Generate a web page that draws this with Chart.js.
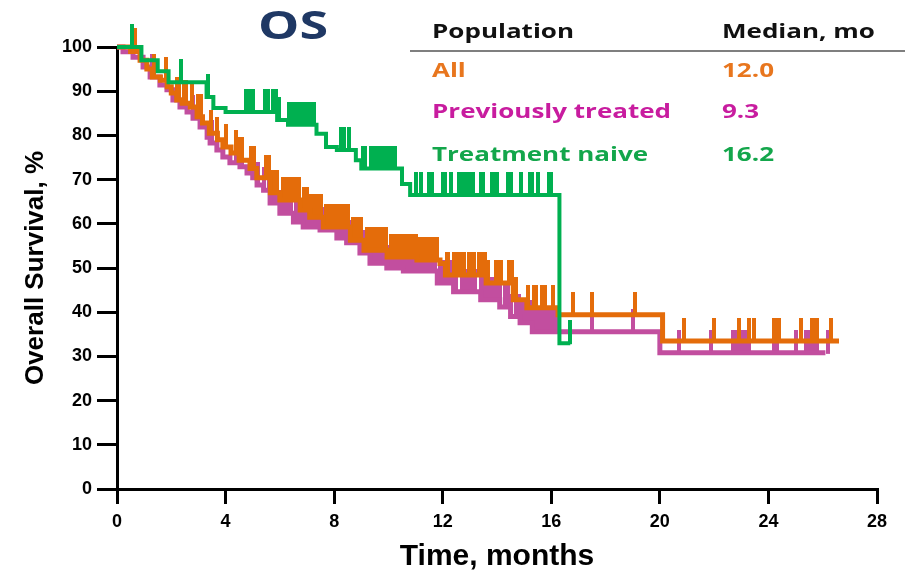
<!DOCTYPE html>
<html>
<head>
<meta charset="utf-8">
<script src="https://cdn.jsdelivr.net/npm/chart.js@4.4.1/dist/chart.umd.min.js"></script>
<style>
  body { margin: 0; background: #fff; }
  #wrap { position: relative; width: 913px; height: 573px; }
  #wrap canvas { position: absolute; left: 0; top: 0; }
  .txt { position: absolute; white-space: nowrap; font-family: 'Open Sans', sans-serif; font-weight: 700; line-height: 1; transform-origin: left top; }
  #title { left: 258px; top: 4px; font-size: 40px; color: #1F3864; transform: scaleX(1.3); }
  .leg { font-size: 20px; transform: scaleX(1.3); }
  #rule { position: absolute; left: 410px; top: 50px; width: 495px; height: 2px; background: #7f7f7f; }
</style>
</head>
<body>
<div id="wrap">
  <canvas id="osChart" width="913" height="573"></canvas>
  <div id="title" class="txt">OS</div>
  <div id="legend"></div>
  <div id="rule"></div>
</div>
<script>
/* ---------- Veri ---------- */
const xTicks = [0, 4, 8, 12, 16, 20, 24, 28];
const yTicks = [0, 10, 20, 30, 40, 50, 60, 70, 80, 90, 100];

const seriesNames = ['All', 'Previously treated', 'Treatment naive'];
const medians = ['12.0', '9.3', '16.2'];

// All (turuncu)
const allTimes = [0, 0.5, 0.85, 1.1, 1.3, 1.6, 1.85, 2.0, 2.2, 2.4, 2.7, 2.95, 3.15, 3.4, 3.7, 3.9, 4.2, 4.5, 4.9, 5.15,
                  5.65, 6.0, 6.75, 7.1, 7.6, 8.6, 9.1, 9.95, 11.05, 11.9, 12.1, 13.6, 14.6, 15.1, 16.25, 20.1, 26.6];
const allSurv  = [100, 99, 97, 95, 93.2, 92.5, 91, 89.6, 88, 87.3, 86.4, 84.2, 82.8, 80.5, 79, 77.4, 76, 74.4, 72.5, 70.4,
                  67, 65.4, 63.1, 61.5, 59.3, 56.3, 54, 52.5, 51.8, 51, 48.4, 46.6, 42.8, 41, 39.4, 33.5, 33.5];
const allCensor = [0.65, 1.35, 1.8, 2.2, 2.3, 2.45, 2.55, 2.75, 3.0, 3.1, 3.45, 3.7, 4.0, 4.4, 4.5, 4.6, 4.95, 5.05,
                   5.5, 5.6, 5.7, 5.8, 5.9, 6.1, 6.2, 6.3, 6.4, 6.5, 6.6, 6.7, 6.9, 7.0, 7.1, 7.2, 7.3, 7.4, 7.5,
                   7.7, 7.8, 7.9, 8.0, 8.1, 8.2, 8.3, 8.4, 8.5, 8.7, 8.8, 8.9, 9.0, 9.2, 9.3, 9.4, 9.5, 9.6, 9.7,
                   9.8, 9.9, 10.1, 10.2, 10.3, 10.4, 10.5, 10.6, 10.7, 10.8, 10.9, 11.0, 11.1, 11.2, 11.3, 11.4,
                   11.5, 11.6, 11.7, 11.8, 12.15, 12.2, 12.4, 12.5, 12.6, 12.7, 12.8, 12.95, 13.05, 13.15, 13.35,
                   13.45, 13.55, 13.65, 13.95, 14.05, 14.15, 14.45, 14.55, 14.7, 15.15, 15.35, 15.45, 15.65, 15.75,
                   16.05, 16.8, 17.5, 19.1, 20.9, 22.0, 22.9, 23.3, 23.45, 24.2, 24.3, 24.4, 25.2, 25.6, 25.7, 25.8, 26.3];

// Previously treated (mor)
const ptTimes = [0, 0.22, 0.59, 0.96, 1.22, 1.58, 1.84, 2.06, 2.32, 2.58, 2.8, 3.06, 3.32, 3.43, 3.68, 3.9, 4.16, 4.53, 4.79, 5.0,
                 5.16, 5.4, 5.64, 6.0, 6.5, 6.86, 7.48, 8.1, 8.46, 8.95, 9.32, 9.94, 10.55, 11.8, 12.4, 13.4, 14.1, 14.5, 14.85, 15.3,
                 20.0, 26.1];
const ptSurv  = [100, 98.9, 97.7, 95.5, 93.2, 91.4, 90.3, 88, 86.4, 85.3, 83.9, 81.9, 79.6, 78.3, 76.7, 75.1, 73.8, 72.9, 71.5, 70.4,
                 68.8, 67.6, 64.7, 62.4, 60.4, 59.3, 58.6, 56.8, 55.7, 53.4, 51.1, 50, 49.3, 46.6, 44.6, 42.8, 41.2, 39, 37.6, 35.6,
                 30.8, 30.8];
const ptCensor = [0.6, 1.3, 2.2, 2.5, 2.8, 3.1, 3.5, 4.4, 4.6, 5.0, 5.2, 5.4, 5.6, 5.7, 5.8, 5.9, 6.0, 6.1, 6.2, 6.3,
                  6.4, 6.6, 6.7, 6.8, 6.9, 7.0, 7.1, 7.2, 7.3, 7.4, 7.5, 7.6, 7.7, 7.8, 7.9, 8.0, 8.1, 8.2, 8.3,
                  8.4, 8.5, 8.6, 8.7, 8.8, 8.9, 9.0, 9.1, 9.2, 9.3, 9.4, 9.5, 9.6, 9.7, 9.8, 9.9, 10.0, 10.1, 10.2,
                  10.3, 10.4, 10.5, 10.6, 10.7, 10.8, 10.9, 11.0, 11.1, 11.2, 11.3, 11.4, 11.5, 11.6, 11.7, 11.9,
                  12.0, 12.1, 12.2, 12.3, 12.4, 12.5, 12.7, 12.8, 12.9, 13.0, 13.1, 13.2, 13.4, 13.5, 13.6, 13.7,
                  13.8, 13.9, 14.0, 14.1, 14.3, 14.4, 14.5, 14.7, 14.8, 14.9, 15.0, 15.1, 15.2, 15.3, 15.4, 15.5,
                  15.6, 15.7, 15.8, 15.9, 16.0, 16.1, 16.2, 17.5, 19.0, 20.7, 21.9, 22.7, 22.8, 22.9, 23.0, 23.1,
                  23.2, 23.3, 24.2, 24.3, 25.0, 25.4, 25.5, 25.6, 25.7, 25.8, 26.2];

// Treatment naive (yeşil)
const tnTimes = [0, 0.9, 1.5, 1.9, 3.3, 3.55, 4.0, 5.9, 6.3, 7.35, 7.7, 8.1, 8.8, 9.0, 10.5, 10.8, 16.3, 16.7];
const tnSurv  = [100, 97, 94.5, 92, 88.7, 86.2, 85.3, 83.5, 82.4, 80.4, 77.4, 76.7, 74.4, 72.5, 69, 66.5, 33, 33];
const tnCensor = [0.55, 2.35, 3.35, 4.75, 4.85, 5.0, 5.45, 5.55, 5.75, 5.85, 5.95, 6.35, 6.45, 6.55, 6.65, 6.75, 6.85,
                  6.95, 7.05, 7.15, 7.25, 8.25, 8.35, 8.55, 9.05, 9.15, 9.35, 9.45, 9.55, 9.65, 9.75, 9.85, 9.95, 10.05,
                  10.15, 10.25, 11.0, 11.2, 11.5, 11.6, 12.0, 12.1, 12.3, 12.6, 12.7, 12.8, 12.9, 13.0, 13.1, 13.4, 13.5,
                  13.8, 13.9, 14.0, 14.4, 14.5, 14.9, 15.2, 15.3, 15.5, 15.9, 16.0, 16.7];

const lineColors = ['#E46C0A', '#C24E9F', '#00B050'];
const textColors = ['#E8761E', '#C81C9F', '#13A64B'];

/* ---------- Yardımcılar ---------- */
function stepPoints(times, surv) {
    return times.map((t, i) => ({ x: t, y: surv[i] }));
}

function survivalAt(times, surv, t) {
    let v = surv[0];
    for (let i = 0; i < times.length; i++) {
        if (times[i] <= t) v = surv[i];
    }
    return v;
}

function censorPoints(times, surv, cens) {
    return cens.map(t => ({ x: t, y: survivalAt(times, surv, t) }));
}

// sansür işareti: çizginin üstüne doğru kısa dikey çizgi
function tickMark(color) {
    const c = document.createElement('canvas');
    c.width = 4; c.height = 46;
    const g = c.getContext('2d');
    g.fillStyle = color;
    g.fillRect(0, 0, 4, 24);
    return c;
}

/* ---------- Lejant tablosu ---------- */
function buildLegend() {
    const box = document.getElementById('legend');
    const rows = [
        { name: 'Population', med: 'Median, mo', color: '#111', top: 21 }
    ];
    const tops = [60, 101, 144];
    seriesNames.forEach((n, i) => rows.push({ name: n, med: medians[i], color: textColors[i], top: tops[i] }));
    rows.forEach(r => {
        box.insertAdjacentHTML('beforeend',
            `<div class="txt leg" style="left:432px;top:${r.top}px;color:${r.color}">${r.name}</div>` +
            `<div class="txt leg" style="left:722px;top:${r.top}px;color:${r.color}">${r.med}</div>`);
    });
}

/* ---------- Grafik ---------- */
function drawChart() {
    const ctx = document.getElementById('osChart').getContext('2d');
    const series = [
        { times: tnTimes, surv: tnSurv, cens: tnCensor, width: 4 },
        { times: allTimes, surv: allSurv, cens: allCensor, width: 5 },
        { times: ptTimes, surv: ptSurv, cens: ptCensor, width: 5 }
    ];
    const colorIdx = [2, 0, 1];
    const datasets = [];
    series.forEach((s, k) => {
        const col = lineColors[colorIdx[k]];
        datasets.push({
            type: 'line', data: stepPoints(s.times, s.surv), stepped: 'before',
            borderColor: col, borderWidth: s.width, pointRadius: 0, fill: false,
            clip: false, order: k * 2
        });
        datasets.push({
            type: 'scatter', data: censorPoints(s.times, s.surv, s.cens), showLine: false,
            pointStyle: tickMark(col), pointRadius: 2, clip: false, order: k * 2 + 1
        });
    });

    const tickFont = { family: "'Liberation Sans', Arial, sans-serif", size: 18, weight: 'bold' };

    new Chart(ctx, {
        data: { datasets },
        options: {
            responsive: false,
            animation: false,
            devicePixelRatio: 1,
            layout: { padding: { top: 47, right: 36, left: 0, bottom: 0 } },
            plugins: { legend: { display: false }, tooltip: { enabled: false } },
            scales: {
                x: {
                    type: 'linear', min: 0, max: 28,
                    afterBuildTicks: s => { s.ticks = xTicks.map(v => ({ value: v })); },
                    afterFit: s => { s.height = 84; },
                    ticks: { font: tickFont, color: '#000', padding: 7 },
                    grid: { drawOnChartArea: false, drawTicks: true, tickLength: 15, lineWidth: 3, color: '#000' },
                    border: { color: '#000', width: 3 },
                    title: {
                        display: true, text: 'Time, months', color: '#000',
                        font: { family: "'Liberation Sans', Arial, sans-serif", size: 30, weight: 'bold', lineHeight: 1 },
                        padding: { top: 0, bottom: 1 }
                    }
                },
                y: {
                    type: 'linear', min: 0, max: 100,
                    afterBuildTicks: s => { s.ticks = yTicks.map(v => ({ value: v })); },
                    afterFit: s => { s.width = 117; },
                    ticks: { font: tickFont, color: '#000', padding: 5 },
                    grid: { drawOnChartArea: false, drawTicks: true, tickLength: 20, lineWidth: 3, color: '#000' },
                    border: { color: '#000', width: 3 },
                    title: {
                        display: true, text: 'Overall Survival, %', color: '#000',
                        font: { family: "'Liberation Sans Narrow', 'Arial Narrow', 'Liberation Sans', sans-serif", size: 26, weight: 'bold', lineHeight: 1 },
                        padding: { top: 23, bottom: 0 }
                    }
                }
            }
        }
    });
}

document.addEventListener('DOMContentLoaded', () => {
    buildLegend();
    drawChart();
});
</script>
</body>
</html>
